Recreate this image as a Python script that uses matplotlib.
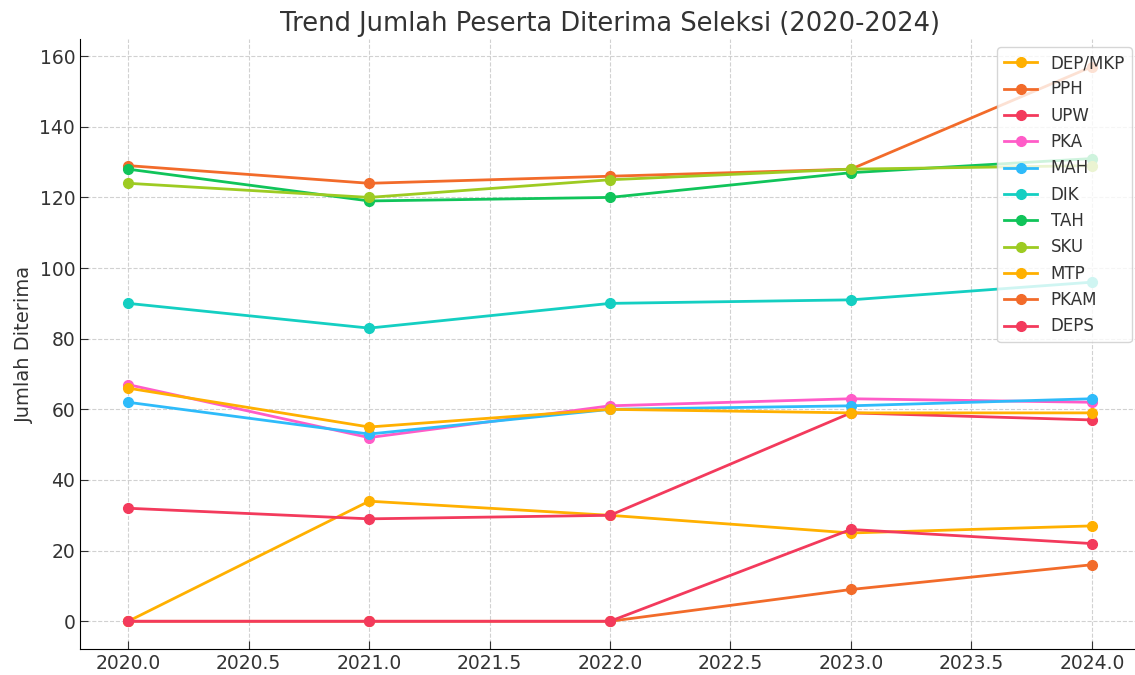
import numpy as np
import matplotlib.pyplot as plt

years = [2020, 2021, 2022, 2023, 2024]

#--- diterima per program
programs = ['DEP/MKP', 'PPH', 'UPW', 'PKA', 'MAH', 'DIK', 'TAH', 'SKU', 'MTP', 'PKAM', 'DEPS']
values = {
    'DEP/MKP': [0, 34, 30, 25, 27],
    'PPH':     [129, 124, 126, 128, 157],
    'UPW':     [32, 29, 30, 59, 57],
    'PKA':     [67, 52, 61, 63, 62],
    'MAH':     [62, 53, 60, 61, 63],
    'DIK':     [90, 83, 90, 91, 96],
    'TAH':     [128, 119, 120, 127, 131],
    'SKU':     [124, 120, 125, 128, 129],
    'MTP':     [66, 55, 60, 59, 59],
    'PKAM':    [0, 0, 0, 9, 16],
    'DEPS':    [0, 0, 0, 26, 22],
}

colors = ['#FFB000', '#F26B2A', '#F33A5C', '#FF5CC8', '#2EBBFA',
          '#14CFC2', '#10C45A', '#9DCB22']

plt.figure(figsize=(11.35, 6.75), dpi=100)
# axes run a bit past the right edge, like the (cropped) original
ax = plt.axes([80/1135., 26/675., 1060/1135., 610/675.])

for i, p in enumerate(programs):
    ax.plot(years, values[p], marker='o', markersize=7, linewidth=2,
            color=colors[i % len(colors)], label=p)

ax.set_title('Trend Jumlah Peserta Diterima Seleksi (2020-2024)', fontsize=18.5, color='#333333')
ax.set_ylabel('Jumlah Diterima', fontsize=14, color='#333333')
ax.tick_params(labelsize=13.5, colors='#333333', direction='in', length=6)
ax.spines['top'].set_visible(False)
ax.spines['right'].set_visible(False)
ax.grid(True, linestyle='--', color='#cccccc', alpha=0.9)
ax.legend(loc='upper right', fontsize=12, labelcolor='#333333')

plt.savefig('out.png', dpi=100)
